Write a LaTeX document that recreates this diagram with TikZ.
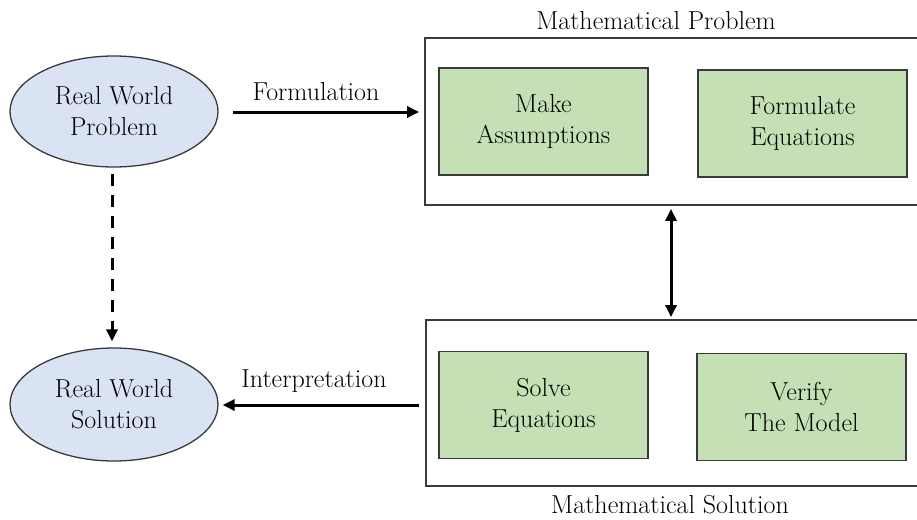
\documentclass[tikz,border=0pt]{standalone}
\usetikzlibrary{shapes.geometric,arrows.meta}
\definecolor{ellfill}{HTML}{DAE3F3}
\definecolor{boxfill}{HTML}{C5E0B4}
\definecolor{edge}{HTML}{3A3A3A}
\tikzset{
  every node/.style={font=\fontsize{26}{31}\selectfont, text=black},
  world/.style={ellipse, draw=edge, line width=1.3pt, fill=ellfill, minimum width=208pt, minimum height=111pt, inner sep=0pt, align=center},
  task/.style={rectangle, draw=edge, line width=1.8pt, fill=boxfill, minimum width=209pt, minimum height=107pt, inner sep=0pt, align=center},
  outer/.style={rectangle, draw=edge, line width=1.8pt, minimum width=505pt, inner sep=0pt},
  arr/.style={line width=3pt, -{Triangle[length=12pt,width=11pt]}},
  darr/.style={line width=3pt, {Triangle[length=12pt,width=11pt]}-{Triangle[length=12pt,width=11pt]}},
  lbl/.style={inner sep=0pt}
}
\begin{document}
\begin{tikzpicture}[x=1pt,y=-1pt]
\clip (0,0) rectangle (917,519);
\fill[white] (0,0) rectangle (917,519);
% outer boxes
\node[outer, minimum height=167pt] (mp) at (677.5,121.5) {};
\node[outer, minimum height=166pt] (ms) at (678.5,403) {};
\node[lbl] (mpl) at (656,21) {Mathematical Problem};
\node[lbl] (msl) at (670,505) {Mathematical Solution};
% ellipses
\node[world] (e1) at (114,111.5) {Real World\\Problem};
\node[world, minimum height=113pt] (e2) at (114,404.5) {Real World\\Solution};
% tasks
\node[task] (g1) at (543.5,121.5) {Make\\Assumptions};
\node[task] (g2) at (802.5,123.5) {Formulate\\Equations};
\node[task] (g3) at (543.5,405) {Solve\\Equations};
\node[task] (g4) at (801.5,407) {Verify\\The Model};
% connectors
\coordinate (dx) at (671,0);
\coordinate (fy) at (0,112);
\coordinate (iy) at (0,405);
\draw[arr] (e1.east |- fy) ++(14,0) coordinate (fs) -- ([xshift=-5pt]mp.west |- fy);
\node[lbl] (fl) at (316,92) {Formulation};
\draw[arr] ([xshift=-6pt]ms.west |- iy) -- ([xshift=4pt]e2.east |- iy);
\node[lbl] (il) at (314,381) {Interpretation};
\draw[darr, shorten <=3pt, shorten >=2pt] (mp.south -| dx) -- (ms.north -| dx);
\draw[arr, dash pattern=on 12pt off 9pt, shorten <=6pt, shorten >=6pt] ([xshift=-2pt]e1.south) -- ([xshift=-2pt]e2.north);
\end{tikzpicture}
\end{document}
